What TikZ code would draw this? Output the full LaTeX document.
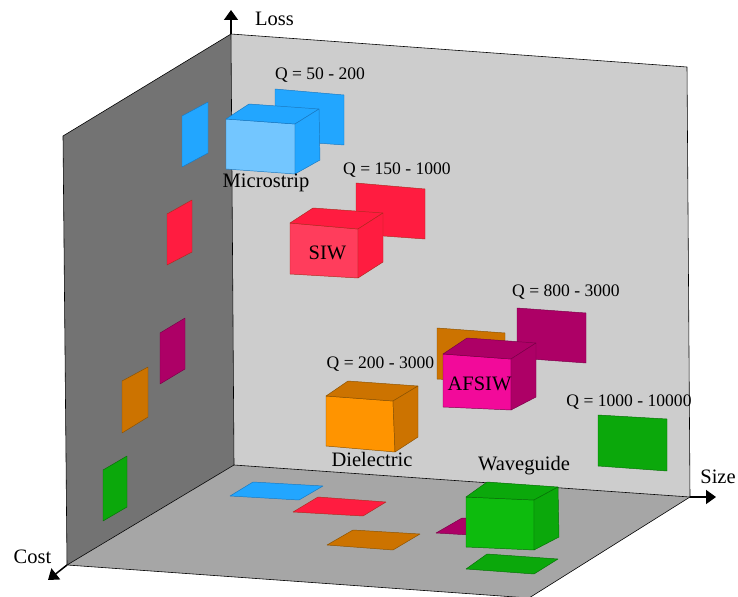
\documentclass[tikz,border=0pt]{standalone}
\usepackage{fontspec}
\setmainfont{Liberation Serif}
\usetikzlibrary{arrows.meta}
\definecolor{backwall}{HTML}{CDCDCD}
\definecolor{leftwall}{HTML}{737373}
\definecolor{floorc}{HTML}{A6A6A6}
\definecolor{bluep}{HTML}{22A6FF}
\definecolor{bluef}{HTML}{73C6FF}
\definecolor{blued}{HTML}{1A78C0}
\definecolor{redp}{HTML}{FF1C40}
\definecolor{redf}{HTML}{FF3D5C}
\definecolor{redd}{HTML}{B02A20}
\definecolor{orap}{HTML}{CC7300}
\definecolor{oraf}{HTML}{FF9400}
\definecolor{orad}{HTML}{8C5200}
\definecolor{magp}{HTML}{AD0066}
\definecolor{magf}{HTML}{F20A9A}
\definecolor{magd}{HTML}{7A0048}
\definecolor{grep}{HTML}{0BA80B}
\definecolor{gref}{HTML}{0DBB0D}
\definecolor{gred}{HTML}{067006}
\tikzset{
  wallface/.style={draw=black, line width=0.5pt, line join=round},
  bluepan/.style={fill=bluep, draw=blued, line width=0.4pt, line join=round},
  redpan/.style={fill=redp, draw=redd, line width=0.4pt, line join=round},
  orapan/.style={fill=orap, draw=orad, line width=0.4pt, line join=round},
  magpan/.style={fill=magp, draw=magd, line width=0.4pt, line join=round},
  grepan/.style={fill=grep, draw=gred, line width=0.4pt, line join=round},
  qlab/.style={font=\fontsize{15}{18}\selectfont, inner sep=0pt, anchor=base},
  nlab/.style={font=\fontsize{17.5}{21}\selectfont, inner sep=0pt, anchor=base},
  axisarrow/.style={line width=1.3pt, -{Triangle[length=3mm,width=4.2mm]}}
}
\begin{document}
\begin{tikzpicture}[x=0.03cm,y=-0.03cm]
\useasboundingbox (0,0) rectangle (738,597);
\clip (0,0) rectangle (738,597);
% walls
\coordinate (topc) at (231,34);
\coordinate (backc) at (234,465);
\coordinate (leftc) at (67,565);
\coordinate (rightc) at (690,497);
\coordinate (losstip) at (231,10);
\coordinate (sizetip) at (716,497);
\coordinate (costtip) at (48,580);
\fill[leftwall] (63,136) -- (topc) -- (backc) -- (leftc) -- cycle;
\fill[backwall] (topc) -- (687,67) -- (rightc) -- (backc) -- cycle;
\fill[floorc] (backc) -- (rightc) -- (529,598) -- (leftc) -- cycle;
\draw[wallface] (leftc) -- (63,136) -- (topc) -- (687,67) -- (rightc) -- (529,598);
\draw[wallface] (topc) -- (backc) -- (rightc);
\draw[wallface] (backc) -- (leftc) -- (529,598);
% axes
\draw[axisarrow] (topc) -- (losstip);
\draw[axisarrow] (rightc) -- (sizetip);
\draw[axisarrow] (leftc) -- (costtip);
\node[nlab] (loss) at (274.5,26) {Loss};
\node[nlab] (size) at (718,483.7) {Size};
\node[nlab] (cost) at (32.5,563) {Cost};
% left wall projections
\draw[bluepan] (182,116) -- (208,102) -- (208,153) -- (182,167) -- cycle;
\draw[redpan] (167,214) -- (192,200) -- (192,252) -- (167,265) -- cycle;
\draw[magpan] (160,333) -- (185,318) -- (185,369) -- (160,384) -- cycle;
\draw[orapan] (122,381) -- (148,367) -- (148,417) -- (122,433) -- cycle;
\draw[grepan] (103,470) -- (127,456) -- (127,507) -- (103,521) -- cycle;
% floor projections
\draw[bluepan] (230,496) -- (253,482) -- (323,486) -- (299,500) -- cycle;
\draw[redpan] (293,512) -- (318,497) -- (386,502) -- (363,516) -- cycle;
\draw[orapan] (327,545) -- (353,530) -- (420,534) -- (393,550) -- cycle;
\draw[magpan] (436,533) -- (462,518) -- (530,522) -- (505,537) -- cycle;
\draw[grepan] (466,569) -- (487,554) -- (558,559) -- (534,574) -- cycle;
% back wall projections
\draw[bluepan] (275,89) -- (344,95) -- (344,145) -- (275,140) -- cycle;
\draw[redpan] (356,183) -- (425,189) -- (425,239) -- (356,234) -- cycle;
\draw[magpan] (517,308) -- (586,313) -- (586,363) -- (517,358) -- cycle;
\draw[orapan] (437,328) -- (505,333) -- (505,383) -- (437,379) -- cycle;
\draw[grepan] (598,415) -- (667,419) -- (667,471) -- (598,466) -- cycle;
% Microstrip cube
\draw[bluepan, fill=bluef] (226,119) -- (295,124) -- (295,174) -- (226,169) -- cycle;
\draw[bluepan] (226,119) -- (249,104) -- (319,109) -- (295,124) -- cycle;
\draw[bluepan] (295,124) -- (319,109) -- (320,160) -- (295,174) -- cycle;
% SIW cube
\draw[redpan, fill=redf] (290,223) -- (358,229) -- (358,278) -- (290,274) -- cycle;
\draw[redpan] (290,223) -- (313,208) -- (383,213) -- (358,229) -- cycle;
\draw[redpan] (358,229) -- (383,213) -- (383,262) -- (358,278) -- cycle;
% AFSIW cube
\draw[magpan, fill=magf] (443,354) -- (511,359) -- (511,410) -- (443,407) -- cycle;
\draw[magpan] (443,354) -- (467,338) -- (536,343) -- (511,359) -- cycle;
\draw[magpan] (511,359) -- (536,343) -- (536,397) -- (511,410) -- cycle;
% Dielectric cube
\draw[orapan, fill=oraf] (326,396) -- (393,401) -- (395,452) -- (326,446) -- cycle;
\draw[orapan] (326,396) -- (348,381) -- (418,386) -- (393,401) -- cycle;
\draw[orapan] (393,401) -- (418,386) -- (418,437) -- (395,452) -- cycle;
% Waveguide cube
\draw[grepan, fill=gref] (466,497) -- (534,500) -- (534,550) -- (466,547) -- cycle;
\draw[grepan] (466,497) -- (487,482) -- (558,487) -- (534,500) -- cycle;
\draw[grepan] (534,500) -- (558,487) -- (559,537) -- (534,550) -- cycle;
% labels
\node[nlab] (microstrip) at (266,187.5) {Microstrip};
\node[nlab] (siw) at (327.5,259.3) {SIW};
\node[nlab] (afsiw) at (479.5,390.3) {AFSIW};
\node[nlab] (dielectric) at (372,466) {Dielectric};
\node[nlab] (waveguide) at (524,470.7) {Waveguide};
\node[qlab] (q1) at (320,80) {Q = 50 - 200};
\node[qlab] (q2) at (397,174.3) {Q = 150 - 1000};
\node[qlab] (q3) at (380.5,368) {Q = 200 - 3000};
\node[qlab] (q4) at (566,296.7) {Q = 800 - 3000};
\node[qlab] (q5) at (629,406.3) {Q = 1000 - 10000};
\end{tikzpicture}
\end{document}
